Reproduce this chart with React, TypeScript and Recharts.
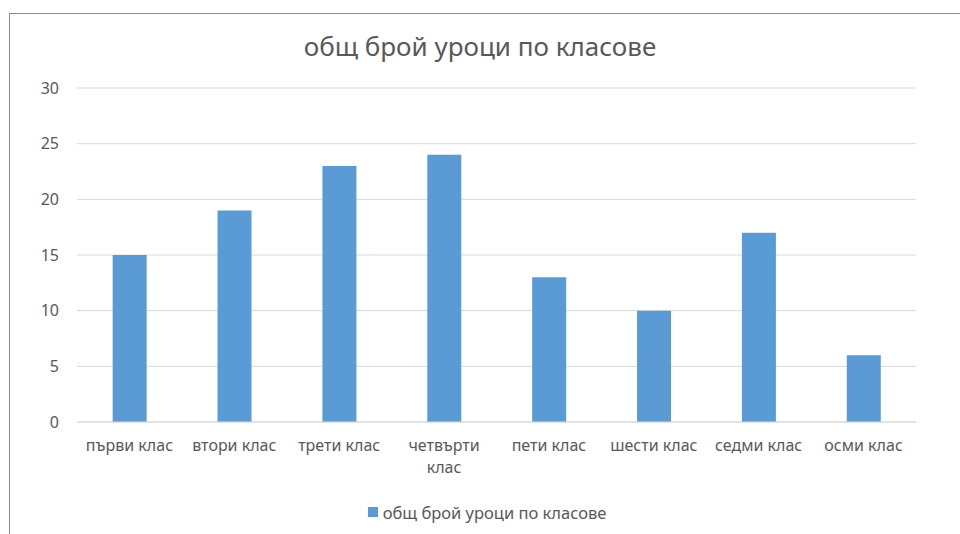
import React from 'react';
import { BarChart, Bar, XAxis, YAxis, CartesianGrid, Legend, Text } from 'recharts';

const categories = ['първи клас', 'втори клас', 'трети клас', 'четвърти клас', 'пети клас', 'шести клас', 'седми клас', 'осми клас'];
const lessons = [15, 19, 23, 24, 13, 10, 17, 6];
const yTicks = [0, 5, 10, 15, 20, 25, 30];
const seriesName = 'общ брой уроци по класове';
const title = 'общ брой уроци по класове';

const data = categories.map((c, i) => ({ name: c, value: lessons[i] }));

const FONT = '"Noto Sans", sans-serif';
const GRAY = '#595959';

const XTick = (props: any) => {
  const { x, y, payload } = props;
  return (
    <Text
      x={x}
      y={y}
      dy={10}
      width={100}
      textAnchor="middle"
      verticalAnchor="start"
      lineHeight={22}
      fontSize={16}
      fontFamily={FONT}
      fill={GRAY}
      style={{ fontSize: 16, fontFamily: FONT }}
    >
      {payload.value}
    </Text>
  );
};

const LegendContent = () => (
  <div style={{ display: 'flex', justifyContent: 'center', alignItems: 'center', height: 30, paddingLeft: 58, boxSizing: 'border-box', fontFamily: FONT, fontSize: 16.5, color: GRAY }}>
    <span style={{ display: 'inline-block', width: 10, height: 10, background: '#5B9BD5', marginRight: 5 }} />
    <span>{seriesName}</span>
  </div>
);

export default function App() {
  return (
    <div style={{ position: 'fixed', left: 0, top: 0, width: 960, height: 600, background: '#fff', overflow: 'hidden' }}>
      <div style={{ position: 'absolute', left: 9, top: 13, width: 1000, height: 700, borderLeft: '1.5px solid #8c8c8c', borderTop: '1.5px solid #8c8c8c', boxSizing: 'border-box' }} />
      <div style={{ position: 'absolute', left: 0, width: 960, top: 28, textAlign: 'center', fontFamily: FONT, fontSize: 26, color: GRAY, lineHeight: '36px' }}>{title}</div>
      <div style={{ position: 'absolute', left: 0, top: 0 }}>
        <BarChart width={960} height={534} data={data} margin={{ top: 88, right: 44, left: 0, bottom: 7 }} barCategoryGap="34%">
          <CartesianGrid vertical={false} stroke="#D9D9D9" />
          <XAxis dataKey="name" height={75} tickLine={false} axisLine={{ stroke: '#D9D9D9' }} interval={0} tick={<XTick />} />
          <YAxis width={77} domain={[0, 30]} ticks={yTicks} axisLine={false} tickLine={false} tickMargin={12} tick={{ fill: GRAY, fontSize: 16, fontFamily: FONT }} />
          <Legend verticalAlign="bottom" height={30} content={<LegendContent />} />
          <Bar dataKey="value" name={seriesName} fill="#5B9BD5" isAnimationActive={false} />
        </BarChart>
      </div>
    </div>
  );
}
